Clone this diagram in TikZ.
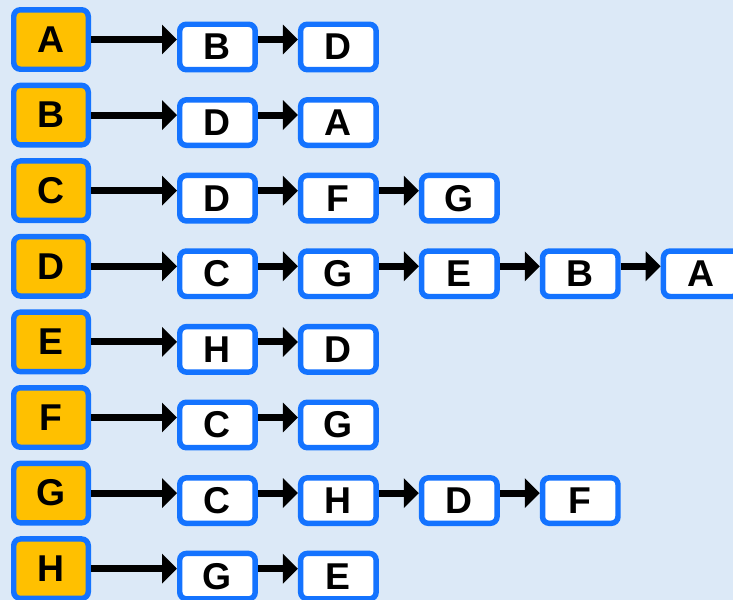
\documentclass[tikz,border=0pt]{standalone}
\usepackage{fontspec}
\setmainfont{Liberation Sans}
\usetikzlibrary{arrows.meta,positioning}
\definecolor{bgblue}{RGB}{220,233,247}
\definecolor{edgeblue}{RGB}{20,115,255}
\definecolor{headgold}{RGB}{255,192,0}

\begin{document}
\begin{tikzpicture}[x=0.75pt, y=0.75pt,
      head/.style={draw=edgeblue, line width=4.1pt, fill=headgold, rounded corners=5pt,
                   minimum width=55.9pt, minimum height=44.6pt, inner sep=0pt,
                   font=\fontsize{28}{28}\selectfont\bfseries},
      item/.style={draw=edgeblue, line width=4.1pt, fill=white, rounded corners=5pt,
                   minimum width=56.6pt, minimum height=34.1pt, inner sep=0pt,
                   font=\fontsize{28}{28}\selectfont\bfseries},
      first/.style={right=64.5pt of #1, yshift=-5.6pt},
      ar/.style={-{Triangle[length=11.25pt, width=21.75pt]}, line width=5.25pt},
      node distance=8pt and 30pt
    ]
    \useasboundingbox (0,0) rectangle (733,-600);
    \fill[bgblue] (0,0) rectangle (733,-600);
    \clip (0,0) rectangle (733,-600);
    % head column
    \node[head] (hA) at (51,-39.5) {A};
    \node[head, below=of hA] (hB) {B};
    \node[head, below=of hB] (hC) {C};
    \node[head, below=of hC] (hD) {D};
    \node[head, below=of hD] (hE) {E};
    \node[head, below=of hE] (hF) {F};
    \node[head, below=of hF] (hG) {G};
    \node[head, below=of hG] (hH) {H};
    % lists
    \node[item, first=hA]       (a1) {B};
    \node[item, right=of a1]    (a2) {D};
    \node[item, first=hB]       (b1) {D};
    \node[item, right=of b1]    (b2) {A};
    \node[item, first=hC]       (c1) {D};
    \node[item, right=of c1]    (c2) {F};
    \node[item, right=of c2]    (c3) {G};
    \node[item, first=hD]       (d1) {C};
    \node[item, right=of d1]    (d2) {G};
    \node[item, right=of d2]    (d3) {E};
    \node[item, right=of d3]    (d4) {B};
    \node[item, right=of d4]    (d5) {A};
    \node[item, first=hE]       (e1) {H};
    \node[item, right=of e1]    (e2) {D};
    \node[item, first=hF]       (f1) {C};
    \node[item, right=of f1]    (f2) {G};
    \node[item, first=hG]       (g1) {C};
    \node[item, right=of g1]    (g2) {H};
    \node[item, right=of g2]    (g3) {D};
    \node[item, right=of g3]    (g4) {F};
    \node[item, first=hH]       (h1) {G};
    \node[item, right=of h1]    (h2) {E};
    % arrows
    \draw[ar] (hA.east) -- (hA -| a1.west);
    \draw[ar] (a1.east |- hA) -- (a2.west |- hA);
    \draw[ar] (hB.east) -- (hB -| b1.west);
    \draw[ar] (b1.east |- hB) -- (b2.west |- hB);
    \draw[ar] (hC.east) -- (hC -| c1.west);
    \draw[ar] (c1.east |- hC) -- (c2.west |- hC);
    \draw[ar] (c2.east |- hC) -- (c3.west |- hC);
    \draw[ar] (hD.east) -- (hD -| d1.west);
    \draw[ar] (d1.east |- hD) -- (d2.west |- hD);
    \draw[ar] (d2.east |- hD) -- (d3.west |- hD);
    \draw[ar] (d3.east |- hD) -- (d4.west |- hD);
    \draw[ar] (d4.east |- hD) -- (d5.west |- hD);
    \draw[ar] (hE.east) -- (hE -| e1.west);
    \draw[ar] (e1.east |- hE) -- (e2.west |- hE);
    \draw[ar] (hF.east) -- (hF -| f1.west);
    \draw[ar] (f1.east |- hF) -- (f2.west |- hF);
    \draw[ar] (hG.east) -- (hG -| g1.west);
    \draw[ar] (g1.east |- hG) -- (g2.west |- hG);
    \draw[ar] (g2.east |- hG) -- (g3.west |- hG);
    \draw[ar] (g3.east |- hG) -- (g4.west |- hG);
    \draw[ar] (hH.east) -- (hH -| h1.west);
    \draw[ar] (h1.east |- hH) -- (h2.west |- hH);
  \end{tikzpicture}
\end{document}
